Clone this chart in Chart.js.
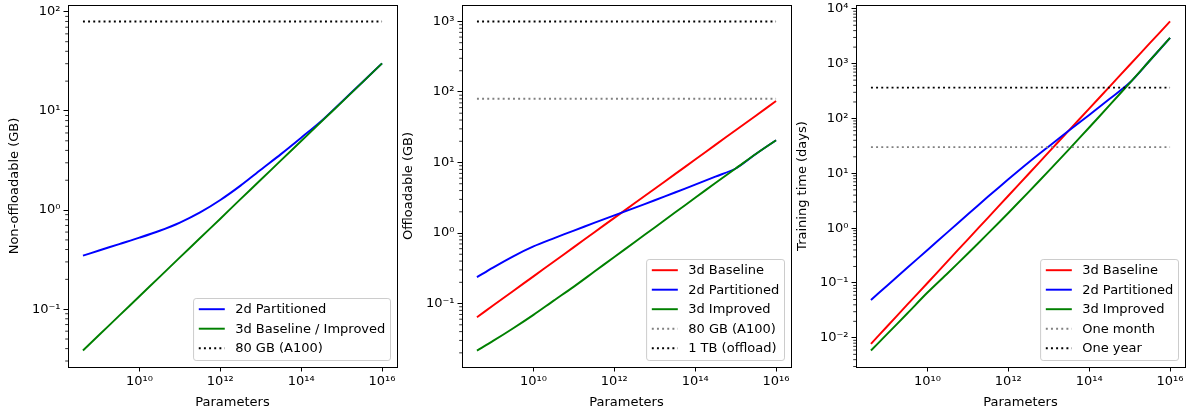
<!DOCTYPE html>
<html>
<head>
<meta charset="utf-8">
<script src="https://cdn.jsdelivr.net/npm/chart.js@4.4.0/dist/chart.umd.min.js"></script>
<style>
  body { margin: 0; background: #fff; width: 1190px; height: 415px; position: relative; overflow: hidden; }
  canvas { position: absolute; top: 0; }
</style>
</head>
<body>
<canvas id="c1" width="398" height="415" style="left:0px"></canvas>
<canvas id="c2" width="398" height="415" style="left:394px"></canvas>
<canvas id="c3" width="398" height="415" style="left:788px"></canvas>
<script>
// model sizes (x axis)
const params = [4e8, 1e9, 3.16e9, 1e10, 3.16e10, 1e11, 3.16e11, 1e12, 3.16e12, 1e13, 3.16e13, 1e14, 3.16e14, 1e15, 3.16e15, 1e16];

// panel 1 : non-offloadable memory (GB)
const nonOffBlue  = [0.347, 0.391, 0.454, 0.527, 0.619, 0.749, 0.948, 1.265, 1.766, 2.553, 3.67, 5.37, 7.94, 12.36, 19.3, 30.2];
const nonOffGreen = [0.0383, 0.0548, 0.0861, 0.135, 0.212, 0.333, 0.522, 0.819, 1.29, 2.02, 3.17, 4.97, 7.80, 12.2, 19.2, 30.2];

// panel 2 : offloadable memory (GB)
const offRed   = [0.0641, 0.0938, 0.151, 0.243, 0.392, 0.631, 1.02, 1.64, 2.64, 4.25, 6.84, 11.0, 17.8, 28.6, 46.1, 74.3];
const offBlue  = [0.237, 0.324, 0.468, 0.646, 0.841, 1.084, 1.39, 1.778, 2.275, 2.917, 3.758, 4.853, 6.31, 8.22, 13.2, 20.7];
const offGreen = [0.0215, 0.0295, 0.0447, 0.0692, 0.110, 0.174, 0.282, 0.457, 0.741, 1.20, 1.95, 3.16, 5.13, 8.22, 13.2, 20.7];

// panel 3 : training time (days)
const timeRed   = [0.00778, 0.0161, 0.0402, 0.100, 0.251, 0.625, 1.56, 3.90, 9.73, 24.3, 60.7, 151, 378, 944, 2360, 5880];
const timeBlue  = [0.0491, 0.0893, 0.189, 0.401, 0.847, 1.795, 3.76, 7.76, 15.7, 30.9, 60.3, 116, 226, 447, 1140, 2940];
const timeGreen = [0.00587, 0.01167, 0.0278, 0.067, 0.151, 0.344, 0.802, 1.89, 4.55, 11.1, 27.4, 68.4, 173, 442, 1140, 2940];

// reference limits
const a100GB = 80;
const offloadGB = 1000;
const oneMonth = 30;
const oneYear = 365;

const xTicks = [1e10, 1e12, 1e14, 1e16];

Chart.defaults.font.family = "'DejaVu Sans', sans-serif";
Chart.defaults.font.size = 13;
Chart.defaults.color = "#000";

const SUP = { "0": "⁰", "1": "¹", "2": "²", "3": "³", "4": "⁴", "5": "⁵", "6": "⁶", "7": "⁷", "8": "⁸", "9": "⁹", "-": "⁻" };
function pow10Label(v) {
    const e = Math.round(Math.log10(v));
    return "10" + String(e).split("").map(c => SUP[c]).join("");
}

const LW = 1.95;
const DOT = [1.95, 3.2];

function curve(label, values, color) {
    return {
        label: label,
        data: params.map((p, i) => ({ x: p, y: values[i] })),
        borderColor: color,
        borderWidth: LW,
        pointRadius: 0,
        fill: false,
        tension: 0.3
    };
}
function limitLine(label, value, color) {
    return {
        label: label,
        data: [{ x: params[0], y: value }, { x: params[params.length - 1], y: value }],
        borderColor: color,
        borderWidth: LW,
        borderDash: DOT,
        borderCapStyle: "butt",
        pointRadius: 0,
        fill: false
    };
}

// frame, minor ticks and matplotlib-like legend
const decorations = {
    id: "decorations",
    afterDatasetsDraw(chart) {
        const ctx = chart.ctx;
        const a = chart.chartArea;
        const ys = chart.scales.y;
        ctx.save();
        // minor ticks on the y axis
        ctx.strokeStyle = "#000";
        ctx.lineWidth = 0.8;
        const k0 = Math.floor(Math.log10(ys.min)), k1 = Math.ceil(Math.log10(ys.max));
        for (let k = k0; k <= k1; k++) {
            for (let m = 2; m <= 9; m++) {
                const v = m * Math.pow(10, k);
                if (v < ys.min || v > ys.max) continue;
                const py = ys.getPixelForValue(v);
                ctx.beginPath();
                ctx.moveTo(a.left, py);
                ctx.lineTo(a.left - 2.8, py);
                ctx.stroke();
            }
        }
        // axes box
        ctx.lineWidth = 1;
        ctx.strokeRect(Math.round(a.left) + 0.5, Math.round(a.top) + 0.5,
            Math.round(a.right) - Math.round(a.left), Math.round(a.bottom) - Math.round(a.top));

        // legend
        const sets = chart.data.datasets;
        ctx.font = "13px 'DejaVu Sans'";
        let maxW = 0;
        sets.forEach(d => { maxW = Math.max(maxW, ctx.measureText(d.label).width); });
        const rowH = 19.5;
        const w = 5.2 + 26 + 10.4 + maxW + 5.2;
        const h = sets.length * rowH + 3.5;
        const right = a.right - 6.5, bottom = a.bottom - 6.5;
        const left = right - w, top = bottom - h;
        const r = 2.6;
        ctx.beginPath();
        ctx.moveTo(left + r, top);
        ctx.arcTo(right, top, right, bottom, r);
        ctx.arcTo(right, bottom, left, bottom, r);
        ctx.arcTo(left, bottom, left, top, r);
        ctx.arcTo(left, top, right, top, r);
        ctx.closePath();
        ctx.fillStyle = "rgba(255,255,255,0.8)";
        ctx.fill();
        ctx.strokeStyle = "#cccccc";
        ctx.lineWidth = 1;
        ctx.stroke();
        sets.forEach((d, i) => {
            const cy = top + 10.7 + i * rowH;
            ctx.beginPath();
            ctx.setLineDash(d.borderDash || []);
            ctx.strokeStyle = d.borderColor;
            ctx.lineWidth = LW;
            ctx.moveTo(left + 5.2, cy);
            ctx.lineTo(left + 5.2 + 26, cy);
            ctx.stroke();
            ctx.setLineDash([]);
            ctx.fillStyle = "#000";
            ctx.textBaseline = "middle";
            ctx.textAlign = "left";
            ctx.fillText(d.label, left + 5.2 + 26 + 10.4, cy + 0.5);
        });
        ctx.restore();
    }
};

function makePanel(id, datasets, yTitle, yMin, yMax) {
    // later datasets are drawn on top, as in matplotlib
    datasets.forEach((d, i) => { d.order = -i; });
    new Chart(document.getElementById(id), {
        type: "line",
        data: { datasets: datasets },
        options: {
            responsive: false,
            animation: false,
            layout: { padding: { left: 0, right: 1, top: 5, bottom: 0 } },
            plugins: { legend: { display: false }, tooltip: { enabled: false } },
            scales: {
                x: {
                    type: "logarithmic",
                    min: 1.707e8,
                    max: 2.343e16,
                    afterBuildTicks: s => { s.ticks = xTicks.map(v => ({ value: v })); },
                    afterFit: s => { s.height = 48; s.paddingLeft = 0; s.paddingRight = 0; },
                    ticks: { callback: v => pow10Label(v), maxRotation: 0, autoSkip: false, padding: 2, color: "#000" },
                    grid: { display: true, drawOnChartArea: false, drawTicks: true, tickLength: 4.5, color: "#000", lineWidth: 1 },
                    border: { display: false },
                    title: { display: true, text: "Parameters", padding: { top: 0, bottom: 4.2 }, color: "#000" }
                },
                y: {
                    type: "logarithmic",
                    min: yMin,
                    max: yMax,
                    afterBuildTicks: s => {
                        const t = [];
                        for (let k = Math.ceil(Math.log10(yMin)); k <= Math.floor(Math.log10(yMax)); k++) t.push({ value: Math.pow(10, k) });
                        s.ticks = t;
                    },
                    afterFit: s => { s.width = 68; s.paddingTop = 0; s.paddingBottom = 0; },
                    ticks: { callback: v => pow10Label(v), autoSkip: false, padding: 3, color: "#000" },
                    grid: { display: true, drawOnChartArea: false, drawTicks: true, tickLength: 4.5, color: "#000", lineWidth: 1 },
                    border: { display: false },
                    title: { display: true, text: yTitle, padding: { top: 6.5, bottom: 0 }, color: "#000" }
                }
            }
        },
        plugins: [decorations]
    });
}

makePanel("c1", [
    curve("2d Partitioned", nonOffBlue, "#0000ff"),
    curve("3d Baseline / Improved", nonOffGreen, "#008000"),
    limitLine("80 GB (A100)", a100GB, "#000000")
], "Non-offloadable (GB)", 0.0261, 117.3);

makePanel("c2", [
    curve("3d Baseline", offRed, "#ff0000"),
    curve("2d Partitioned", offBlue, "#0000ff"),
    curve("3d Improved", offGreen, "#008000"),
    limitLine("80 GB (A100)", a100GB, "#808080"),
    limitLine("1 TB (offload)", offloadGB, "#000000")
], "Offloadable (GB)", 0.0126, 1711);

makePanel("c3", [
    curve("3d Baseline", timeRed, "#ff0000"),
    curve("2d Partitioned", timeBlue, "#0000ff"),
    curve("3d Improved", timeGreen, "#008000"),
    limitLine("One month", oneMonth, "#808080"),
    limitLine("One year", oneYear, "#000000")
], "Training time (days)", 0.00294, 11720);
</script>
</body>
</html>
